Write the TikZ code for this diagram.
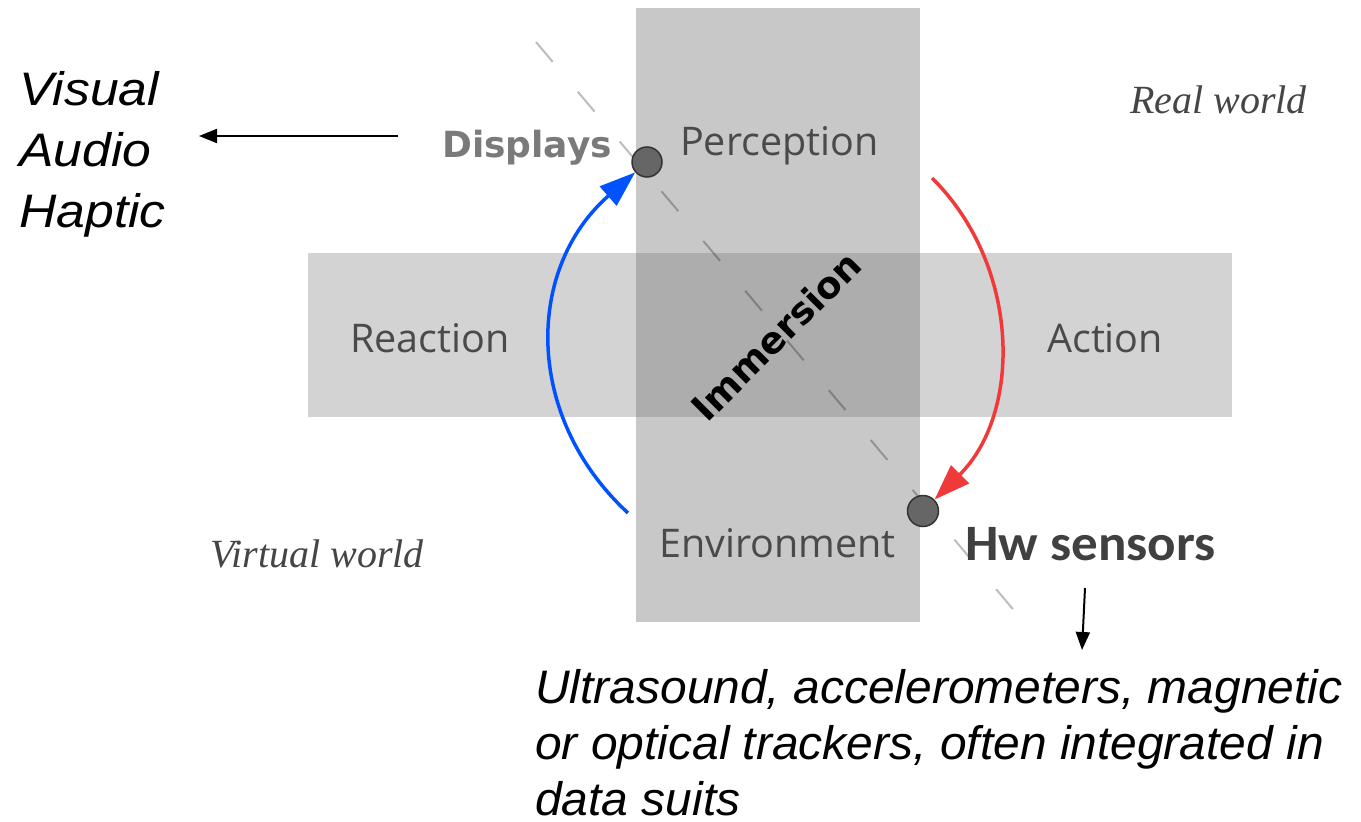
\documentclass[tikz,border=0pt]{standalone}
\usepackage{fontspec}
\setmainfont{Liberation Sans}
\newfontfamily\arialf{Liberation Sans}
\newfontfamily\arialwide[FakeStretch=1.1]{Liberation Sans}
\newfontfamily\arialbot[FakeStretch=1.02]{Liberation Sans}
\newfontfamily\opensans{Open Sans}
\newfontfamily\dejab{DejaVu Sans}
\newfontfamily\carlitof[FakeStretch=1.04]{Carlito}
\newfontfamily\libserif{Liberation Serif}
\usetikzlibrary{arrows.meta}
\definecolor{vrect}{HTML}{C8C8C8}
\definecolor{hrect}{HTML}{D3D3D3}
\definecolor{orect}{HTML}{ADADAD}
\definecolor{labelgray}{HTML}{4A4A4A}
\definecolor{dispgray}{HTML}{7A7A7A}
\definecolor{worldgray}{HTML}{454545}
\definecolor{hwgray}{HTML}{404040}
\definecolor{arcblue}{HTML}{0052FF}
\definecolor{arcred}{HTML}{F03A3A}
\definecolor{dotfill}{HTML}{666666}
\tikzset{
  boxlabel/.style={anchor=base west, inner sep=0pt, text=labelgray, font=\opensans\fontsize{39.5}{46}\selectfont},
  worldlabel/.style={anchor=base west, inner sep=0pt, text=worldgray, font=\libserif\itshape\fontsize{40}{48}\selectfont},
  notetext/.style={anchor=north west, inner sep=0pt, align=left, text=black},
  dotnode/.style={circle, fill=dotfill, draw=black!80, line width=1.5pt, minimum size=30pt, inner sep=0pt},
  dashline/.style={draw=black, draw opacity=0.26, line width=2pt, dash pattern=on 26pt off 39pt},
  bluearc/.style={draw=arcblue, line width=3.5pt, -{Triangle[length=36pt,width=25pt]}},
  redarc/.style={draw=arcred, line width=3.5pt, -{Triangle[length=36pt,width=25pt]}},
  thinarrow/.style={draw=black, line width=2pt, -{Triangle[length=18pt,width=14pt]}}
}
\begin{document}
\begin{tikzpicture}[x=1pt,y=-1pt]
\useasboundingbox[fill=white] (0,0) rectangle (1361,822);
% cross of rectangles
\fill[vrect] (636,8) rectangle (920,622);
\fill[hrect] (308,253) rectangle (1232,417);
\fill[orect] (636,253) rectangle (920,417);
% dashed diagonal
\coordinate (dlA) at (536,42);
\coordinate (dlB) at (1017,614);
\draw[dashline] (dlA) -- (dlB);
% dots
\node[dotnode] (ddot) at (647,162) {};
\node[dotnode, minimum size=31pt] (edot) at (923,511) {};
% arcs
\coordinate (bstart) at (628,513);
\coordinate (rstart) at (932,178);
\draw[bluearc] (bstart) .. controls (524,417) and (525,269) .. (ddot);
\draw[redarc] (rstart) .. controls (1021,266) and (1022,413) .. (edot);
% labels in the cross
\node[boxlabel] (perc) at (680,155) {Perception};
\node[boxlabel] (react) at (350,352) {Reaction};
\node[boxlabel] (act) at (1047,352) {Action};
\node[boxlabel] (env) at (659,557) {Environment};
\node[anchor=base west, inner sep=0pt, text=dispgray, font=\dejab\bfseries\fontsize{36}{40}\selectfont] (disp) at (442,157) {Displays};
\node[inner sep=0pt, text=black, rotate=45, font=\dejab\bfseries\fontsize{37}{40}\selectfont] (imm) at (776,336) {Immersion};
% worlds
\node[worldlabel] (real) at (1130,113) {Real world};
\node[worldlabel] (virt) at (210,567) {Virtual world};
% hw sensors
\node[anchor=base west, inner sep=0pt, text=hwgray, font=\carlitof\bfseries\fontsize{51}{60}\selectfont] (hw) at (965,560) {Hw sensors};
% notes
\node[notetext, font=\arialwide\itshape\fontsize{47}{61}\selectfont] (vah) at (19,71) {Visual\\Audio\\Haptic};
\node[notetext, font=\arialbot\itshape\fontsize{47}{56}\selectfont] (sens) at (535,669) {Ultrasound, accelerometers, magnetic\\or optical trackers, often integrated in\\data suits};
% thin arrows
\coordinate (dispL) at (398,136);
\coordinate (vahR) at (199,136);
\draw[thinarrow] (dispL) -- (vahR);
\coordinate (hwB) at (1085,588);
\coordinate (sensT) at (1082,650);
\draw[thinarrow] (hwB) -- (sensT);
\end{tikzpicture}
\end{document}
